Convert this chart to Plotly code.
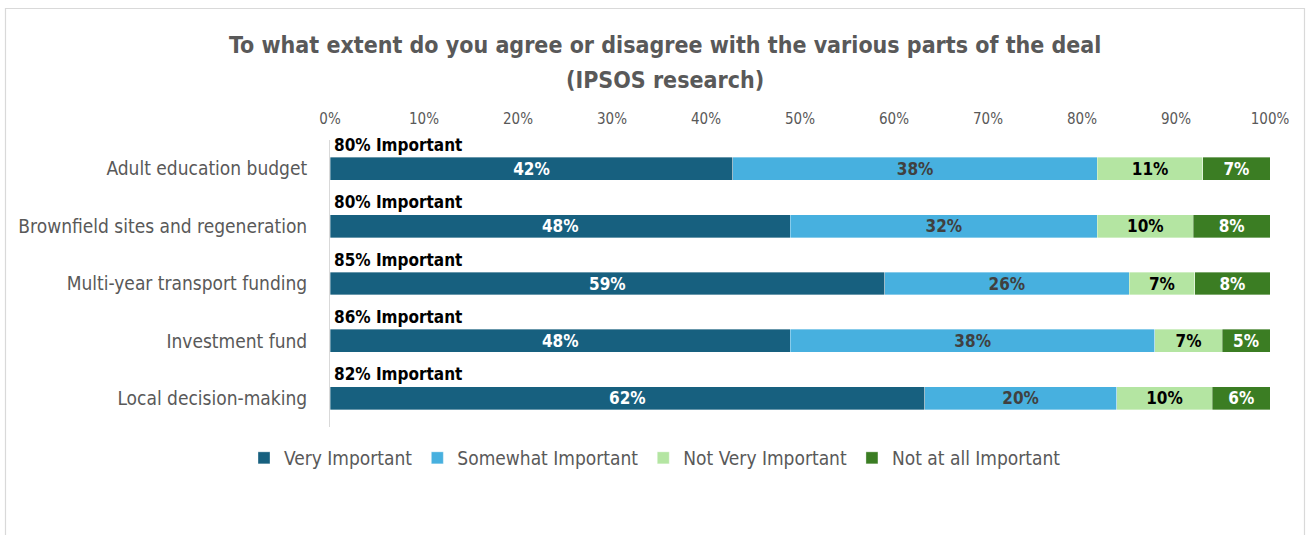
import plotly.graph_objects as go

# Survey results per part of the deal (percent of respondents)
categories = [
    "Adult education budget",
    "Brownfield sites and regeneration",
    "Multi-year transport funding",
    "Investment fund",
    "Local decision-making",
]
very_important = [42, 48, 59, 48, 62]
somewhat_important = [38, 32, 26, 38, 20]
not_very_important = [11, 10, 7, 7, 10]
not_at_all_important = [7, 8, 8, 5, 6]

series_names = ["Very Important", "Somewhat Important", "Not Very Important", "Not at all Important"]
series_values = [very_important, somewhat_important, not_very_important, not_at_all_important]
series_colors = ["#17607F", "#47B0DF", "#B4E5A2", "#3B7D23"]
label_colors = ["#FFFFFF", "#404040", "#000000", "#FFFFFF"]

x_ticks = list(range(0, 101, 10))
tick_text = [f"{t}%" for t in x_ticks]

title_lines = [
    "To what extent do you agree or disagree with the various parts of the deal",
    "(IPSOS research)",
]

FONT = "DejaVu Sans Condensed, Liberation Sans Narrow, sans-serif"
GREY = "#595959"

W, H = 1309, 535
ML, MR, MT, MB = 330, 39, 140, 108
PW, PH = W - ML - MR, H - MT - MB

fig = go.Figure()
for name, vals, col, lcol in zip(series_names, series_values, series_colors, label_colors):
    fig.add_trace(go.Bar(
        name=name,
        y=categories,
        x=vals,
        orientation="h",
        width=0.4,
        marker=dict(color=col, line=dict(color="rgba(255,255,255,0.5)", width=0.7)),
        text=[f"{v}%" for v in vals],
        textposition="inside",
        insidetextanchor="middle",
        textangle=0,
        constraintext="none",
        textfont=dict(family=FONT, size=17, color=lcol, weight="bold"),
        hoverinfo="skip",
    ))

# "Important" totals above each bar
for cat, v, s in zip(categories, very_important, somewhat_important):
    fig.add_annotation(
        x=0, y=cat, xref="x", yref="y",
        text=f"<b>{v + s}% Important</b>",
        showarrow=False, xanchor="left", yanchor="middle",
        xshift=2, yshift=24,
        font=dict(family=FONT, size=17, color="#000000"),
    )

def px_x(px):
    return (px - ML) / PW

def px_y(py):
    return 1 - (py - MT) / PH

# Outer chart border
fig.add_shape(
    type="rect", xref="paper", yref="paper",
    x0=px_x(5.5), x1=px_x(1304.5), y0=px_y(545), y1=px_y(8.5),
    line=dict(color="#D9D9D9", width=1.2), fillcolor="rgba(0,0,0,0)", layer="below",
)

# Two-line title
for line, ypx in zip(title_lines, [45, 80]):
    fig.add_annotation(
        x=px_x(665), y=px_y(ypx), xref="paper", yref="paper",
        text=f"<b>{line}</b>",
        showarrow=False, xanchor="center", yanchor="middle",
        font=dict(family=FONT, size=23, color=GREY),
    )

fig.update_layout(
    width=W, height=H,
    margin=dict(l=ML, r=MR, t=MT, b=MB, pad=0, autoexpand=False),
    barmode="stack",
    barnorm="percent",
    plot_bgcolor="white",
    paper_bgcolor="white",
    font=dict(family=FONT, color=GREY),
    showlegend=True,
    legend=dict(
        orientation="h", xref="container", yref="container",
        x=655 / W, xanchor="center", y=1 - 458 / H, yanchor="middle",
        font=dict(family=FONT, size=19, color=GREY),
        traceorder="normal", itemwidth=30,
    ),
    xaxis=dict(
        range=[0, 100], side="top",
        tickmode="array", tickvals=x_ticks, ticktext=tick_text,
        tickfont=dict(family=FONT, size=15, color=GREY),
        showgrid=False, zeroline=False, showline=False,
        ticks="", ticklabelstandoff=12,
    ),
    yaxis=dict(
        range=[len(categories) - 0.5, -0.5],
        tickfont=dict(family=FONT, size=19, color=GREY),
        showgrid=False, zeroline=False,
        showline=True, linecolor="#D9D9D9", linewidth=1,
        ticks="", ticklabelstandoff=18,
    ),
)

fig.write_html("out.html")
